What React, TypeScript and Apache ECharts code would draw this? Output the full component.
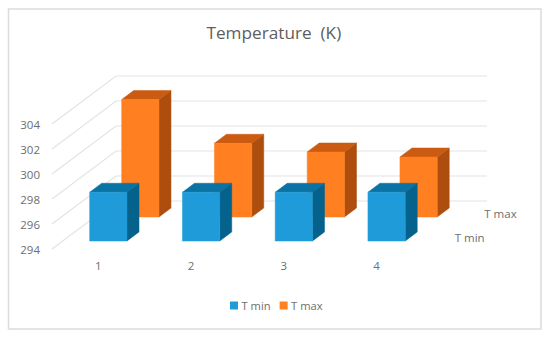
import React, { useEffect, useRef } from "react";
import * as echarts from "echarts";

const categories = ["1", "2", "3", "4"];
const tMin = [297.9, 297.9, 297.9, 297.9];
const tMax = [303.4, 299.9, 299.2, 298.8];
const yTicks = [294, 296, 298, 300, 302, 304];
const depthLabels = ["T min", "T max"];

const FONT = '"Open Sans", "Noto Sans", sans-serif';
const TEXT = "#6e6e6e";
const DEPTH_X = 64;
const DEPTH_Y = 48;
const BAR_W = 37.3;
const BAR_DEPTH = 0.1875;
const SHIFT_X = -0.7;

const project = (p: number[], d: number) => [p[0] + DEPTH_X * d, p[1] - DEPTH_Y * d];

function barRenderer(d0: number, front: string, side: string, top: string) {
  return (_: any, api: any) => {
    const cat = api.value(0);
    const base = api.coord([cat, 294]);
    const head = api.coord([cat, api.value(1)]);
    const cx = base[0] + SHIFT_X;
    const l = cx - BAR_W / 2;
    const r = cx + BAR_W / 2;
    const fbl = project([l, base[1]], d0);
    const fbr = project([r, base[1]], d0);
    const ftl = project([l, head[1]], d0);
    const ftr = project([r, head[1]], d0);
    const bbr = project([r, base[1]], d0 + BAR_DEPTH);
    const btr = project([r, head[1]], d0 + BAR_DEPTH);
    const btl = project([l, head[1]], d0 + BAR_DEPTH);
    const face = (points: number[][], fill: string) => ({
      type: "polygon",
      shape: { points },
      style: { fill, stroke: fill, lineWidth: 0.5 },
    });
    return {
      type: "group",
      children: [
        face([fbr, bbr, btr, ftr], side),
        face([ftl, ftr, btr, btl], top),
        face([fbl, fbr, ftr, ftl], front),
      ],
    };
  };
}

export default function App() {
  const ref = useRef<HTMLDivElement>(null);
  useEffect(() => {
    const chart = echarts.init(ref.current!, undefined, { renderer: "svg" });
    chart.setOption({
      animation: false,
      backgroundColor: "#fff",
      title: {
        text: "Temperature  (K)",
        left: 201.5,
        top: 19,
        textStyle: { fontFamily: FONT, fontSize: 17.2, fontWeight: "normal", color: "#5e5e5e" },
      },
      legend: {
        left: 230,
        top: 300,
        padding: 0,
        itemWidth: 8,
        itemHeight: 8,
        itemGap: 9,
        data: [
          { name: "T min", icon: "rect" },
          { name: "T max", icon: "rect" },
        ],
        textStyle: { fontFamily: FONT, fontSize: 11.2, color: TEXT, padding: [0, 0, 0, -1.5] },
      },
      grid: { left: 52, top: 124, width: 371, height: 125 },
      xAxis: {
        type: "category",
        data: categories,
        axisLine: { show: false },
        axisTick: { show: false },
        splitLine: { show: false },
        axisLabel: { margin: 10, fontFamily: FONT, fontSize: 11.5, color: TEXT },
      },
      yAxis: {
        type: "value",
        min: yTicks[0],
        max: yTicks[yTicks.length - 1],
        interval: 2,
        axisLine: { show: false },
        axisTick: { show: false },
        splitLine: { show: false },
        axisLabel: { margin: 12, fontFamily: FONT, fontSize: 11.5, color: TEXT },
      },
      graphic: [
        {
          type: "rect",
          shape: { x: 8.5, y: 9, width: 532.5, height: 320 },
          style: { fill: "none", stroke: "#dcdcdc", lineWidth: 1.5 },
          silent: true,
          z: -1,
        },
      ],
      series: [
        {
          type: "custom",
          silent: true,
          z: 1,
          encode: { x: 0, y: 1 },
          data: yTicks.map((t) => [0, t]),
          renderItem: (_: any, api: any) => {
            const v = api.value(1);
            const band = api.size([1, 0])[0];
            const a = api.coord([0, v]);
            const b = api.coord([categories.length - 1, v]);
            const fl = [a[0] - band / 2, a[1]];
            const fr = [b[0] + band / 2, b[1]];
            return {
              type: "polyline",
              shape: { points: [fl, project(fl, 1), project(fr, 1)] },
              style: { fill: "none", stroke: "#e3e3e3", lineWidth: 1.2 },
            };
          },
        },
        {
          type: "custom",
          silent: true,
          z: 1,
          encode: { x: 0, y: 1 },
          data: depthLabels.map(() => [categories.length - 1, yTicks[0]]),
          renderItem: (p: any, api: any) => {
            const band = api.size([1, 0])[0];
            const b = api.coord([api.value(0), api.value(1)]);
            const d = p.dataIndex === 0 ? 1 / 6 : 2 / 3;
            const at = project([b[0] + band / 2 + 51, b[1] - 4], d);
            return {
              type: "text",
              x: at[0],
              y: at[1],
              style: {
                text: depthLabels[p.dataIndex],
                align: "right",
                verticalAlign: "middle",
                fontFamily: FONT,
                fontSize: 11.5,
                fill: TEXT,
              },
            };
          },
        },
        {
          name: "T max",
          type: "custom",
          silent: true,
          z: 2,
          itemStyle: { color: "#ff7f21" },
          encode: { x: 0, y: 1 },
          data: tMax.map((v, i) => [i, v]),
          renderItem: barRenderer(2 / 3, "#ff7f21", "#ad4e0e", "#ca5b11"),
        },
        {
          name: "T min",
          type: "custom",
          silent: true,
          z: 3,
          itemStyle: { color: "#1f9bd9" },
          encode: { x: 0, y: 1 },
          data: tMin.map((v, i) => [i, v]),
          renderItem: barRenderer(1 / 6, "#1f9bd9", "#05628c", "#0b73a4"),
        },
      ],
    });
    return () => chart.dispose();
  }, []);
  return (
    <div
      ref={ref}
      style={{ position: "absolute", left: 0, top: 0, width: 550, height: 340 }}
    />
  );
}
